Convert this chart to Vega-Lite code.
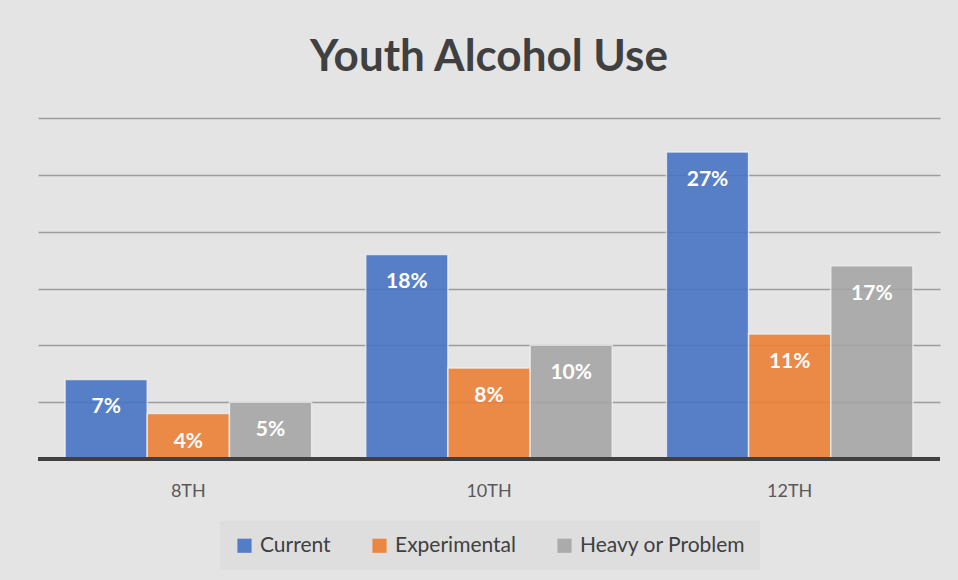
{
  "$schema": "https://vega.github.io/schema/vega-lite/v6.json",
  "width": 902,
  "height": 341,
  "autosize": {"type": "none"},
  "padding": {"left": 38, "top": 118, "right": 18, "bottom": 121},
  "background": "#e4e4e4",
  "title": {
    "text": "Youth Alcohol Use",
    "font": "Lato",
    "fontSize": 44,
    "fontWeight": "bold",
    "color": "#404040",
    "anchor": "middle",
    "offset": 38
  },
  "data": {
    "values": [
      {"grade": "8TH", "type": "Current", "pct": 0.07},
      {"grade": "8TH", "type": "Experimental", "pct": 0.04},
      {"grade": "8TH", "type": "Heavy or Problem", "pct": 0.05},
      {"grade": "10TH", "type": "Current", "pct": 0.18},
      {"grade": "10TH", "type": "Experimental", "pct": 0.08},
      {"grade": "10TH", "type": "Heavy or Problem", "pct": 0.10},
      {"grade": "12TH", "type": "Current", "pct": 0.27},
      {"grade": "12TH", "type": "Experimental", "pct": 0.11},
      {"grade": "12TH", "type": "Heavy or Problem", "pct": 0.17}
    ]
  },
  "encoding": {
    "x": {
      "field": "grade",
      "type": "nominal",
      "sort": ["8TH", "10TH", "12TH"],
      "scale": {"paddingInner": 0.18, "paddingOuter": 0.09},
      "axis": {
        "title": null,
        "labelAngle": 0,
        "labelFont": "Lato",
        "labelFontSize": 18,
        "labelColor": "#595959",
        "labelPadding": 23,
        "ticks": false,
        "domain": false
      }
    },
    "xOffset": {
      "field": "type",
      "type": "nominal",
      "sort": ["Current", "Experimental", "Heavy or Problem"],
      "scale": {"paddingInner": 0, "paddingOuter": 0}
    },
    "y": {
      "field": "pct",
      "type": "quantitative",
      "scale": {"domain": [0, 0.3], "nice": false},
      "axis": {
        "title": null,
        "labels": false,
        "ticks": false,
        "domain": false,
        "values": [0.05, 0.1, 0.15, 0.2, 0.25, 0.3],
        "grid": true,
        "gridColor": "#9c9c9c",
        "gridWidth": 1.5
      }
    }
  },
  "layer": [
    {
      "mark": {
        "type": "bar",
        "opacity": 0.88,
        "stroke": "#f2f2f2",
        "strokeWidth": 1.5,
        "strokeOpacity": 0.8
      },
      "encoding": {
        "color": {
          "field": "type",
          "type": "nominal",
          "sort": ["Current", "Experimental", "Heavy or Problem"],
          "scale": {"range": ["#4472C4", "#ED7D31", "#A5A5A5"]},
          "legend": {
            "title": null,
            "orient": "none",
            "direction": "horizontal",
            "legendX": 182,
            "legendY": 403,
            "fillColor": "#dedede",
            "padding": 14,
            "symbolType": "square",
            "symbolSize": 200,
            "symbolStrokeWidth": 0,
            "symbolOpacity": 0.9,
            "labelFont": "Lato",
            "labelFontSize": 21,
            "labelColor": "#404040",
            "labelOffset": 5,
            "labelLimit": 0,
            "columnPadding": 38
          }
        }
      }
    },
    {
      "mark": {
        "type": "text",
        "color": "white",
        "font": "Lato",
        "fontSize": 21,
        "fontWeight": "bold",
        "baseline": "middle",
        "dy": 28
      },
      "encoding": {
        "text": {"field": "pct", "type": "quantitative", "format": ".0%"},
        "detail": {"field": "type"}
      }
    },
    {
      "mark": {"type": "rule", "color": "#404040", "strokeWidth": 4},
      "encoding": {
        "y": {"datum": 0},
        "x": null,
        "xOffset": null
      }
    }
  ],
  "config": {
    "view": {"stroke": null}
  }
}
